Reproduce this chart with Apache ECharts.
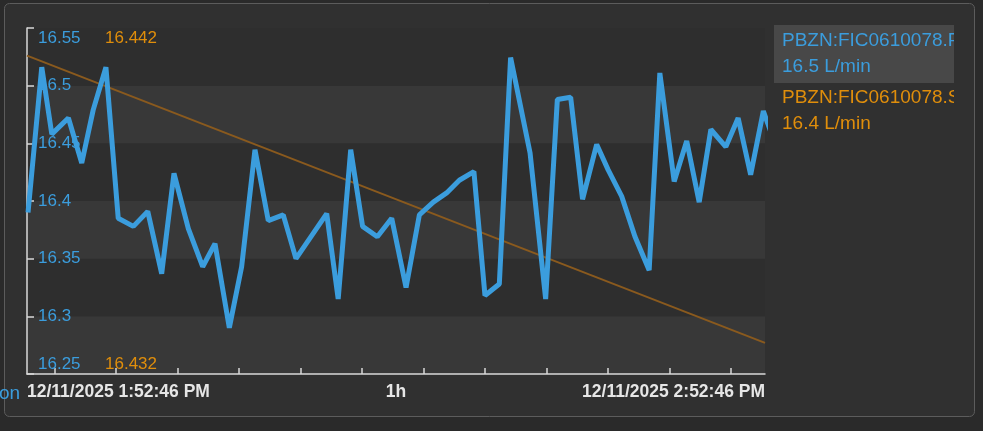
<!DOCTYPE html>
<html>
<head>
<meta charset="utf-8">
<script src="https://cdn.jsdelivr.net/npm/echarts@6/dist/echarts.min.js"></script>
<style>
html,body{margin:0;padding:0;background:#2a2a2a;}
#c{width:983px;height:431px;}
</style>
</head>
<body>
<div id="c"></div>
<script>
// ---- data ----
const startTime = "13:52:46";
const endTime = "14:52:46";
const xLabels = ["12/11/2025 1:52:46 PM", "1h", "12/11/2025 2:52:46 PM"];
const tickTimes = ["13:55:00","14:00:00","14:05:00","14:10:00","14:15:00","14:20:00",
                   "14:25:00","14:30:00","14:35:00","14:40:00","14:45:00","14:50:00"];
const times = ["13:52:51","13:53:58","13:54:47","13:56:08","13:57:13","13:58:09","13:59:11",
  "14:00:11","14:01:25","14:02:35","14:03:43","14:04:43","14:05:53","14:07:03","14:08:03",
  "14:09:13","14:10:13","14:11:18","14:12:23","14:13:36","14:14:38","14:17:08","14:18:04",
  "14:19:05","14:20:03","14:21:15","14:22:25","14:23:35","14:24:40","14:25:48","14:26:53",
  "14:27:55","14:29:06","14:30:00","14:31:10","14:32:05","14:33:40","14:34:56","14:35:53",
  "14:36:58","14:37:56","14:39:05","14:40:01","14:41:07","14:42:12","14:43:21","14:44:13",
  "14:45:23","14:46:24","14:47:25","14:48:22","14:49:35","14:50:35","14:51:36","14:52:38",
  "14:53:44"];
const flowI = [16.390,16.516,16.458,16.472,16.433,16.479,16.516,
  16.385,16.378,16.391,16.337,16.424,16.376,16.343,16.363,
  16.290,16.343,16.4445,16.383,16.388,16.350,16.389,16.315,
  16.4445,16.378,16.369,16.385,16.325,16.388,16.399,16.407,
  16.418,16.4255,16.318,16.328,16.5244,16.4416,16.315,16.488,
  16.490,16.4015,16.449,16.427,16.404,16.369,16.340,16.511,
  16.417,16.452,16.399,16.462,16.447,16.472,16.4227,16.478,
  16.445];
const trendTimes = ["13:52:46","14:52:46"];
const flowS = [16.4412, 16.4329];
const leftTicks = {min: 16.25, max: 16.55, interval: 0.05};
const rightTicks = [16.432, 16.442];
const legendNames = ["PBZN:FIC0610078.PV", "PBZN:FIC0610078.SP"];
const legendValues = ["16.5 L/min", "16.4 L/min"];
const sideName = "on";

// ---- helpers: seconds since 00:00 ----
function sec(t){ const p=t.split(":").map(Number); return p[0]*3600+p[1]*60+p[2]; }
const tStart = sec(startTime), tEnd = sec(endTime);
const labelVals = [tStart, (tStart+tEnd)/2, tEnd];

const BLUE = '#3b9ddd', ORANGE = '#e08e0b', TREND = '#8a5a1e';
const FONT = 'Liberation Sans, Arial, sans-serif';

const chart = echarts.init(document.getElementById('c'), null, {renderer:'canvas'});
chart.setOption({
  backgroundColor: '#2a2a2a',
  animation: false,
  grid: {left: 27, top: 28, right: 218, bottom: 57, containLabel: false},
  xAxis: {
    type: 'value', min: tStart, max: tEnd,
    axisLine: {show: true, lineStyle: {color: '#d8d8d8', width: 1.5}},
    axisTick: {show: true, inside: true, length: 6, lineStyle: {color: '#d8d8d8', width: 1.5},
               customValues: tickTimes.map(sec)},
    splitLine: {show: false},
    axisLabel: {
      customValues: labelVals,
      color: '#e6e6e6', fontSize: 17.5, fontWeight: 'bold', fontFamily: FONT, margin: 9,
      alignMinLabel: 'left', alignMaxLabel: 'right',
      formatter: function(v){ const i = labelVals.indexOf(v); return i>=0 ? xLabels[i] : ''; }
    }
  },
  yAxis: [{
    type: 'value', position: 'left', min: leftTicks.min, max: leftTicks.max, interval: leftTicks.interval,
    axisLine: {show: true, lineStyle: {color: '#d8d8d8', width: 1.5}},
    axisTick: {show: true, inside: true, length: 7, lineStyle: {color: '#d8d8d8', width: 1.5}},
    splitLine: {show: false},
    splitArea: {show: true, areaStyle: {color: ['#383838', '#2e2e2e']}},
    axisLabel: {inside: true, margin: 11, color: BLUE, fontSize: 17, fontFamily: FONT, lineHeight: 20,
      verticalAlignMinLabel: 'bottom', verticalAlignMaxLabel: 'top',
      formatter: function(v){ return String(+(+v).toFixed(2)); }}
  },{
    type: 'value', position: 'left', min: rightTicks[0], max: rightTicks[1],
    axisLine: {show: false}, axisTick: {show: false}, splitLine: {show: false},
    axisLabel: {inside: true, margin: 78, color: ORANGE, fontSize: 17, fontFamily: FONT, lineHeight: 20,
      customValues: rightTicks,
      verticalAlignMinLabel: 'bottom', verticalAlignMaxLabel: 'top',
      formatter: function(v){ return (+v).toFixed(3); }}
  }],
  series: [{
    type: 'line', name: legendNames[1], yAxisIndex: 1, showSymbol: false, z: 2,
    lineStyle: {color: TREND, width: 2}, itemStyle: {color: TREND},
    data: trendTimes.map((t,i)=>[sec(t), flowS[i]])
  },{
    type: 'line', name: legendNames[0], yAxisIndex: 0, showSymbol: false, z: 3,
    lineStyle: {color: BLUE, width: 5, join: 'bevel'}, itemStyle: {color: BLUE},
    data: times.map((t,i)=>[sec(t), flowI[i]])
  }],
  graphic: [
    {type: 'rect', z: -10, silent: true, shape: {x: 4.5, y: 3.5, width: 970, height: 413, r: 5},
     style: {fill: '#303030', stroke: '#5c5c5c', lineWidth: 1}},
    {type: 'rect', z: 50, silent: true, shape: {x: 774, y: 25, width: 185, height: 58},
     style: {fill: '#484848'}},
    {type: 'text', z: 51, left: 782, top: 31, style: {text: legendNames[0], fill: BLUE, font: '19px ' + FONT}},
    {type: 'text', z: 51, left: 782, top: 57, style: {text: legendValues[0], fill: BLUE, font: '19px ' + FONT}},
    {type: 'text', z: 51, left: 782, top: 88, style: {text: legendNames[1], fill: ORANGE, font: '19px ' + FONT}},
    {type: 'text', z: 51, left: 782, top: 114, style: {text: legendValues[1], fill: ORANGE, font: '19px ' + FONT}},
    {type: 'rect', z: 60, silent: true, shape: {x: 954, y: 10, width: 19.5, height: 200},
     style: {fill: '#303030'}},
    {type: 'text', z: 51, left: -1, top: 384, style: {text: sideName, fill: BLUE, font: '19px ' + FONT}}
  ]
});
</script>
</body>
</html>
